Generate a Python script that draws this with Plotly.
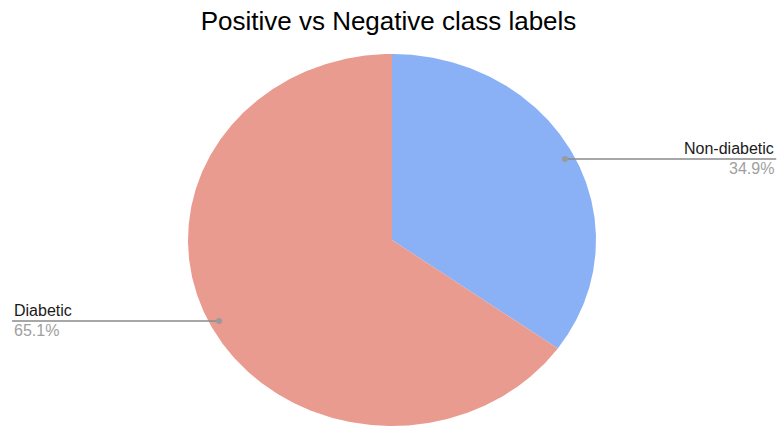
import numpy as np
import plotly.graph_objects as go

# Class balance of the outcome column
labels = ["Non-diabetic", "Diabetic"]
percents = [34.9, 65.1]
colors = ["#8AB1F5", "#EA9B90"]

title_text = "Positive vs Negative class labels"

W, H = 777, 428
# pixel geometry of the pie (drawn on unit-circle data coordinates)
cx_px, cy_px = 392, 240
rx_px, ry_px = 204, 186

x_range = [(0 - cx_px) / rx_px, (W - cx_px) / rx_px]
y_range = [(cy_px - H) / ry_px, cy_px / ry_px]


def paper_to_x(frac):
    return x_range[0] + frac * (x_range[1] - x_range[0])


fig = go.Figure()

total = sum(percents)
start = 0.0
mids = []
for lab, val, col in zip(labels, percents, colors):
    frac = val / total
    # clockwise from 12 o'clock
    t = np.linspace(start, start + frac, max(int(frac * 720), 8))
    ang = np.pi / 2 - 2 * np.pi * t
    xs = np.concatenate([[0], np.cos(ang), [0]])
    ys = np.concatenate([[0], np.sin(ang), [0]])
    fig.add_trace(go.Scatter(
        x=xs, y=ys, mode="lines", fill="toself", fillcolor=col,
        line=dict(width=0, color=col), name=lab,
        hoveron="fills", text=f"{lab}: {val}%", hoverinfo="text",
        showlegend=False,
    ))
    mids.append(np.pi / 2 - 2 * np.pi * (start + frac / 2))
    start += frac

# leader lines and labels
label_side = {"Non-diabetic": 0.999, "Diabetic": 0.0155}
for lab, val, mid in zip(labels, percents, mids):
    dx, dy = 0.953 * np.cos(mid), 0.953 * np.sin(mid)
    right = np.cos(mid) > 0
    x_end = paper_to_x(label_side[lab])
    fig.add_trace(go.Scatter(
        x=[dx, x_end], y=[dy, dy], mode="lines",
        line=dict(color="#8a8a8a", width=1.5),
        hoverinfo="skip", showlegend=False,
    ))
    fig.add_trace(go.Scatter(
        x=[dx], y=[dy], mode="markers",
        marker=dict(color="#9a9a9a", size=6),
        hoverinfo="skip", showlegend=False,
    ))
    anchor = "right" if right else "left"
    fig.add_annotation(
        x=x_end, y=dy, xref="x", yref="y", text=lab, showarrow=False,
        xanchor=anchor, yanchor="bottom", yshift=0,
        font=dict(family="Arial, Liberation Sans", size=16, color="#1a1a1a"),
    )
    fig.add_annotation(
        x=x_end, y=dy, xref="x", yref="y", text=f"{val}%", showarrow=False,
        xanchor=anchor, yanchor="top", yshift=1,
        font=dict(family="Arial, Liberation Sans", size=16, color="#a0a0a0"),
    )

fig.update_layout(
    width=W, height=H,
    margin=dict(l=0, r=0, t=0, b=0),
    paper_bgcolor="white", plot_bgcolor="white",
    title=dict(
        text=title_text, x=0.5, xanchor="center",
        y=1 - 21 / H, yanchor="middle", yref="paper",
        font=dict(family="Arial, Liberation Sans", size=26, color="#000000"),
    ),
    xaxis=dict(range=x_range, visible=False, fixedrange=True),
    yaxis=dict(range=y_range, visible=False, fixedrange=True),
    showlegend=False,
)

fig.write_html("out.html")
